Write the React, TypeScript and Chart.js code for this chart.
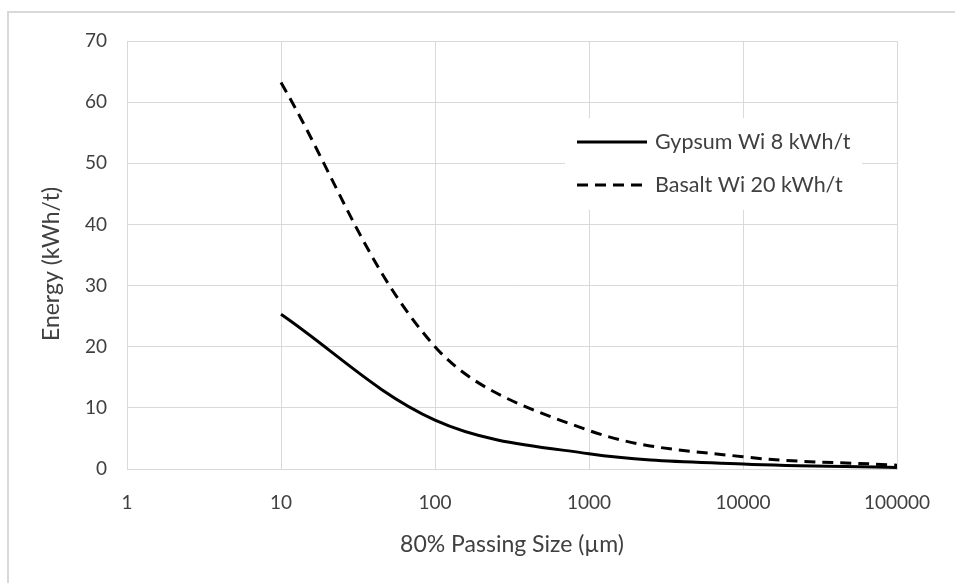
import React, { useEffect, useRef } from "react";
import { Chart, registerables } from "chart.js";

Chart.register(...registerables);

// 80% passing size (µm) at which the energy curves are plotted
const passingSize = [10, 100, 1000, 10000, 100000];
// Energy (kWh/t) for each material
const gypsumEnergy = [25.3, 8.0, 2.5, 0.8, 0.25];
const basaltEnergy = [63.2, 20.0, 6.3, 2.0, 0.63];

const seriesNames = ["Gypsum Wi 8 kWh/t", "Basalt Wi 20 kWh/t"];
const xTickValues = [1, 10, 100, 1000, 10000, 100000];
const yTickValues = [0, 10, 20, 30, 40, 50, 60, 70];
const xTitle = "80% Passing Size (µm)";
const yTitle = "Energy (kWh/t)";

const W = 955;
const H = 583;
const FONT = "Lato, 'Open Sans', sans-serif";
const TEXT = "#404040";
const GRID = "#d9d9d9";
const DASH = [11, 7];

// Axis titles and the boxed legend inside the plot
const overlayPlugin = {
  id: "overlay",
  afterDraw(chart: Chart) {
    const ctx = chart.ctx;
    const area = chart.chartArea;
    ctx.save();
    ctx.fillStyle = TEXT;
    ctx.font = `23px ${FONT}`;
    ctx.textAlign = "center";
    ctx.textBaseline = "middle";
    ctx.fillText(xTitle, (area.left + area.right) / 2, 545);
    ctx.save();
    ctx.translate(52, 264);
    ctx.rotate(-Math.PI / 2);
    ctx.fillText(yTitle, 0, 0);
    ctx.restore();

    // legend
    ctx.fillStyle = "#ffffff";
    ctx.fillRect(565, 118, 297, 92);
    const rows = [
      { y: 142, dash: [] as number[] },
      { y: 185, dash: DASH },
    ];
    rows.forEach((r, i) => {
      ctx.beginPath();
      ctx.setLineDash(r.dash);
      ctx.lineWidth = 3;
      ctx.strokeStyle = "#000000";
      ctx.moveTo(577, r.y);
      ctx.lineTo(647, r.y);
      ctx.stroke();
      ctx.setLineDash([]);
      ctx.fillStyle = TEXT;
      ctx.textAlign = "left";
      ctx.textBaseline = "middle";
      ctx.font = `21.5px ${FONT}`;
      ctx.fillText(seriesNames[i], 655, r.y);
    });
    ctx.restore();
  },
};

export default function App() {
  const canvasRef = useRef<HTMLCanvasElement | null>(null);

  useEffect(() => {
    const canvas = canvasRef.current;
    if (!canvas) return;
    const chart = new Chart(canvas, {
      type: "line",
      data: {
        datasets: [
          {
            label: seriesNames[0],
            data: passingSize.map((x, i) => ({ x, y: gypsumEnergy[i] })),
            borderColor: "#000000",
            borderWidth: 3,
            pointRadius: 0,
            tension: 0.35,
            fill: false,
          },
          {
            label: seriesNames[1],
            data: passingSize.map((x, i) => ({ x, y: basaltEnergy[i] })),
            borderColor: "#000000",
            borderWidth: 3,
            borderDash: DASH,
            pointRadius: 0,
            tension: 0.35,
            fill: false,
          },
        ],
      },
      options: {
        responsive: false,
        animation: false,
        devicePixelRatio: 1,
        layout: { padding: { top: 41, right: 58, left: 0, bottom: 0 } },
        plugins: {
          legend: { display: false },
          tooltip: { enabled: false },
        },
        scales: {
          x: {
            type: "logarithmic",
            min: 1,
            max: 100000,
            afterBuildTicks: (scale: any) => {
              scale.ticks = xTickValues.map((v) => ({ value: v }));
            },
            afterFit: (scale: any) => {
              scale.height = H - 469;
            },
            ticks: {
              autoSkip: false,
              maxRotation: 0,
              padding: 22,
              color: TEXT,
              font: { family: FONT, size: 19 },
              callback: (v: any) => String(v),
            },
            grid: { color: GRID, lineWidth: 1, drawTicks: false },
            border: { color: GRID, width: 1 },
          },
          y: {
            type: "linear",
            min: yTickValues[0],
            max: yTickValues[yTickValues.length - 1],
            afterBuildTicks: (scale: any) => {
              scale.ticks = yTickValues.map((v) => ({ value: v }));
            },
            afterFit: (scale: any) => {
              scale.width = 127;
            },
            ticks: {
              padding: 20,
              color: TEXT,
              font: { family: FONT, size: 19 },
              callback: (v: any) => String(v),
            },
            grid: { color: GRID, lineWidth: 1, drawTicks: false },
            border: { color: GRID, width: 1 },
          },
        },
      },
      plugins: [overlayPlugin],
    });
    return () => chart.destroy();
  }, []);

  return (
    <div style={{ position: "absolute", left: 0, top: 0, width: W, height: H, background: "#ffffff", overflow: "hidden" }}>
      <div
        style={{
          position: "absolute",
          left: 7,
          top: 11,
          width: W,
          height: H,
          borderTop: `2px solid ${GRID}`,
          borderLeft: `2px solid ${GRID}`,
        }}
      />
      <canvas ref={canvasRef} width={W} height={H} style={{ position: "absolute", left: 0, top: 0 }} />
    </div>
  );
}
